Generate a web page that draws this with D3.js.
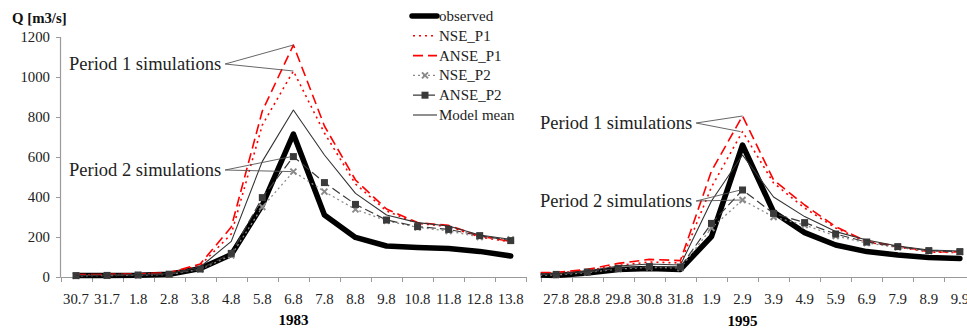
<!DOCTYPE html>
<html>
<head>
<meta charset="utf-8">
<script src="https://cdn.jsdelivr.net/npm/d3@7"></script>
<style>
  body { margin: 0; background: #fff; }
  svg { display: block; font-family: "Liberation Serif", "Times New Roman", serif; }
  svg text { font-family: "Liberation Serif", "Times New Roman", serif; }
</style>
</head>
<body>
<svg id="chart" width="967" height="330"></svg>
<script>
"use strict";

// 1983 event
const cats83 = ["30.7", "31.7", "1.8", "2.8", "3.8", "4.8", "5.8", "6.8", "7.8", "8.8", "9.8", "10.8", "11.8", "12.8", "13.8"];
const observed83 = [8, 8, 9, 14, 42, 112, 360, 715, 310, 198, 155, 148, 143, 128, 105];
const nseP1_83 = [10, 12, 14, 20, 58, 215, 760, 1030, 720, 465, 330, 268, 252, 200, 175];
const anseP1_83 = [12, 13, 15, 22, 65, 250, 830, 1160, 755, 485, 340, 272, 258, 205, 178];
const nseP2_83 = [6, 7, 9, 13, 38, 108, 350, 527, 427, 338, 281, 248, 230, 200, 188];
const anseP2_83 = [7, 8, 10, 14, 40, 118, 397, 602, 472, 363, 285, 252, 238, 207, 182];
const mean83 = [9, 10, 12, 17, 50, 178, 578, 835, 610, 418, 310, 272, 255, 210, 188];

// 1995 event (first day only shows as the lead-in at the axis edge)
const cats95 = ["26.8", "27.8", "28.8", "29.8", "30.8", "31.8", "1.9", "2.9", "3.9", "4.9", "5.9", "6.9", "7.9", "8.9", "9.9"];
const observed95 = [12, 8, 20, 38, 43, 38, 202, 660, 325, 222, 160, 127, 110, 98, 93];
const nseP1_95 = [18, 20, 32, 58, 75, 70, 450, 727, 470, 345, 245, 175, 150, 125, 122];
const anseP1_95 = [22, 23, 38, 68, 88, 82, 530, 805, 485, 360, 252, 178, 155, 127, 125];
const nseP2_95 = [10, 10, 22, 40, 48, 45, 245, 385, 300, 260, 205, 170, 148, 130, 125];
const anseP2_95 = [12, 13, 25, 43, 52, 50, 268, 435, 318, 272, 215, 175, 152, 132, 127];
const mean95 = [15, 16, 30, 55, 65, 60, 380, 610, 400, 302, 227, 185, 155, 135, 130];

const yTicks = [0, 200, 400, 600, 800, 1000, 1200];
const seriesNames = ["observed", "NSE_P1", "ANSE_P1", "NSE_P2", "ANSE_P2", "Model mean"];

const FONT = "Liberation Serif, Times New Roman, serif";

const styles = {
    "observed": { stroke: "#000", width: 5.5, dash: null, marker: null },
    "NSE_P1": { stroke: "#ff0000", width: 1.6, dash: "2,4", marker: null },
    "ANSE_P1": { stroke: "#ff0000", width: 1.6, dash: "10,5", marker: null },
    "NSE_P2": { stroke: "#8a8a8a", width: 1.3, dash: "2,3", marker: "x" },
    "ANSE_P2": { stroke: "#3a3a3a", width: 1.2, dash: "9,4", marker: "square" },
    "Model mean": { stroke: "#333", width: 1.1, dash: null, marker: null }
};

const svg = d3.select("#chart");
const y = d3.scaleLinear().domain([0, 1200]).range([277, 37]);
const step = 31.05;

const buildSeries = (values) => seriesNames.map((name, i) => ({ name, values: values[i] }));

/**
 * Draws one panel: x axis with ticks between categories, lines and markers.
 */
const drawPanel = (cats, series, x, clipId, clipX) => {
    const g = svg.append("g");
    const axisY = y(0);
    const x0 = clipX;
    const x1 = x.range()[1];

    // x axis line + ticks at band boundaries
    g.append("line")
        .attr("x1", x0).attr("x2", Math.min(x1, 967))
        .attr("y1", axisY + 0.5).attr("y2", axisY + 0.5)
        .attr("stroke", "#9a9a9a").attr("stroke-width", 1.2);
    const bounds = cats.map((c) => x(c)).concat([x1]).filter((v) => v >= x0 - 0.5);
    g.selectAll(".tick-b").data(bounds).join("line")
        .attr("x1", (d) => Math.round(d) + 0.5).attr("x2", (d) => Math.round(d) + 0.5)
        .attr("y1", axisY).attr("y2", axisY + 5)
        .attr("stroke", "#9a9a9a");

    const labelAxis = d3.axisBottom(x).tickSize(0)
        .tickValues(cats.filter((c) => x(c) >= x0 - 0.5));
    const ax = g.append("g").attr("transform", `translate(0,${axisY + 13})`).call(labelAxis);
    ax.attr("font-family", FONT);
    ax.select(".domain").remove();
    ax.selectAll("text")
        .attr("font-family", FONT)
        .attr("font-size", 14.8)
        .attr("fill", "#222");

    const clip = svg.append("clipPath").attr("id", clipId);
    clip.append("rect").attr("x", x0).attr("y", 0).attr("width", 967 - x0).attr("height", 330);

    const cx = (c) => x(c) + x.bandwidth() / 2;
    const line = d3.line()
        .x((d, i) => cx(cats[i]))
        .y((d) => y(d));

    const plot = g.append("g").attr("clip-path", `url(#${clipId})`);
    series.forEach((s) => {
        const st = styles[s.name];
        plot.append("path")
            .attr("d", line(s.values))
            .attr("fill", "none")
            .attr("stroke", st.stroke)
            .attr("stroke-width", st.width)
            .attr("stroke-dasharray", st.dash)
            .attr("stroke-linejoin", "round")
            .attr("stroke-linecap", s.name === "observed" ? "round" : "butt");
        const pts = s.values.map((v, i) => ({ x: cx(cats[i]), y: y(v) }))
            .filter((p) => p.x >= x0);
        if (st.marker === "square") {
            plot.selectAll(null).data(pts).join("rect")
                .attr("x", (p) => p.x - 3.5).attr("y", (p) => p.y - 3.5)
                .attr("width", 7).attr("height", 7)
                .attr("fill", "#3a3a3a");
        } else if (st.marker === "x") {
            plot.selectAll(null).data(pts).join("path")
                .attr("d", (p) => `M${p.x - 3},${p.y - 3}L${p.x + 3},${p.y + 3}M${p.x - 3},${p.y + 3}L${p.x + 3},${p.y - 3}`)
                .attr("stroke", "#8a8a8a").attr("stroke-width", 2);
        }
    });
    return { cx };
};

// left panel (1983)
const xLeft = d3.scaleBand().domain(cats83).range([60.5, 60.5 + step * cats83.length]);
const left = drawPanel(cats83,
    buildSeries([observed83, nseP1_83, anseP1_83, nseP2_83, anseP2_83, mean83]),
    xLeft, "clipLeft", 60.5);

// y axis (left panel only)
svg.append("line")
    .attr("x1", 60.5).attr("x2", 60.5).attr("y1", y(1200)).attr("y2", y(0))
    .attr("stroke", "#9a9a9a").attr("stroke-width", 1.2);
svg.selectAll(".ytick").data(yTicks).join("line")
    .attr("x1", 56).attr("x2", 60.5)
    .attr("y1", (d) => Math.round(y(d)) + 0.5).attr("y2", (d) => Math.round(y(d)) + 0.5)
    .attr("stroke", "#9a9a9a");
svg.selectAll(".ylab").data(yTicks).join("text")
    .attr("x", 50).attr("y", (d) => y(d) + 5)
    .attr("text-anchor", "end")
    .attr("font-family", FONT)
    .attr("font-size", 14.8).attr("fill", "#222")
    .text((d) => d);

// right panel (1995)
const xRight = d3.scaleBand().domain(cats95).range([540.7 - step, 540.7 + step * (cats95.length - 1)]);
const right = drawPanel(cats95,
    buildSeries([observed95, nseP1_95, anseP1_95, nseP2_95, anseP2_95, mean95]),
    xRight, "clipRight", 540.7);

// titles
svg.append("text").attr("x", 12).attr("y", 23)
    .attr("font-family", FONT)
    .attr("font-size", 14.8).attr("font-weight", "bold").attr("fill", "#111")
    .text("Q [m3/s]");
svg.append("text").attr("x", left.cx("6.8")).attr("y", 325)
    .attr("font-family", FONT)
    .attr("text-anchor", "middle").attr("font-size", 15).attr("font-weight", "bold")
    .text("1983");
svg.append("text").attr("x", right.cx("2.9")).attr("y", 326)
    .attr("font-family", FONT)
    .attr("text-anchor", "middle").attr("font-size", 15).attr("font-weight", "bold")
    .text("1995");

// annotations pointing to simulated peaks
const annotate = (label, tx, ty, targets) => {
    const t = svg.append("text").attr("x", tx).attr("y", ty + 6)
        .attr("font-family", FONT)
        .attr("font-size", 18.5).attr("fill", "#222").text(label);
    const w = t.node().getComputedTextLength();
    targets.forEach((p) => {
        svg.append("line")
            .attr("x1", tx + w + 4).attr("y1", ty)
            .attr("x2", p[0]).attr("y2", p[1])
            .attr("stroke", "#555").attr("stroke-width", 0.9);
    });
};
const peak83 = left.cx("6.8");
annotate("Period 1 simulations", 69, 64, [[peak83, y(d3.max(anseP1_83))], [peak83, y(d3.max(nseP1_83))]]);
annotate("Period 2 simulations", 69, 170, [[peak83 - 2, y(d3.max(anseP2_83))], [peak83 - 2, y(d3.max(nseP2_83))]]);
const peak95 = right.cx("2.9");
annotate("Period 1 simulations", 540, 123, [[peak95, y(d3.max(anseP1_95))], [peak95 - 2, y(d3.max(nseP1_95))]]);
annotate("Period 2 simulations", 540, 201, [[peak95 - 2, y(d3.max(anseP2_95))], [peak95 - 2, y(d3.max(nseP2_95))]]);

// legend
const legend = svg.append("g");
seriesNames.forEach((name, i) => {
    const st = styles[name];
    const ly = 16 + i * 19.8;
    const row = legend.append("g").attr("transform", `translate(0,${ly})`);
    row.append("line")
        .attr("x1", name === "observed" ? 412 : 413).attr("x2", 437)
        .attr("y1", 0).attr("y2", 0)
        .attr("stroke", st.stroke)
        .attr("stroke-width", st.width)
        .attr("stroke-dasharray", st.dash)
        .attr("stroke-linecap", name === "observed" ? "round" : "butt");
    if (st.marker === "square") {
        row.append("rect").attr("x", 421.5).attr("y", -3.5).attr("width", 7).attr("height", 7).attr("fill", "#3a3a3a");
    } else if (st.marker === "x") {
        row.append("path").attr("d", "M422,-3L428,3M422,3L428,-3")
            .attr("stroke", "#8a8a8a").attr("stroke-width", 2);
    }
    row.append("text").attr("x", 439).attr("y", 5)
        .attr("font-family", FONT)
        .attr("font-size", 15).attr("fill", "#222").text(name);
});
</script>
</body>
</html>
